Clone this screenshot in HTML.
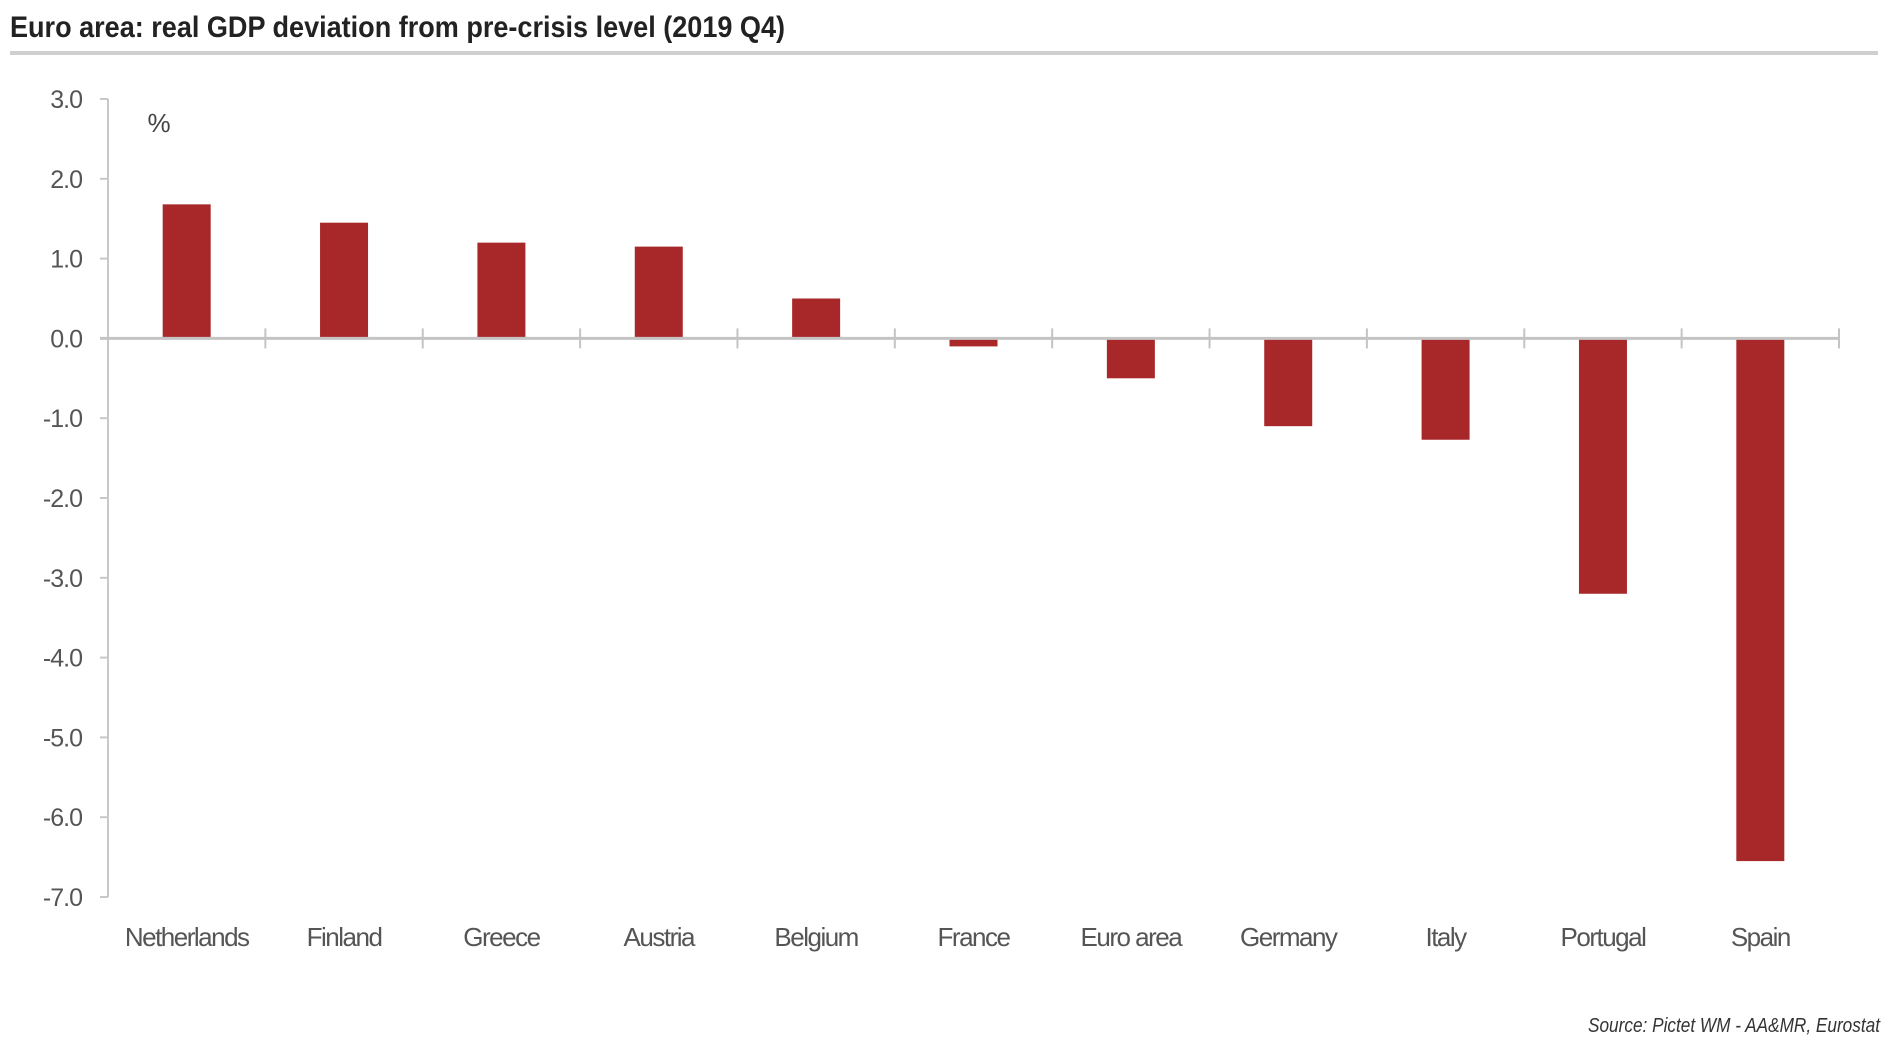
<!DOCTYPE html>
<html><head><meta charset="utf-8"><style>
html,body{margin:0;padding:0;background:#fff;}
svg{display:block;font-family:"Liberation Sans",sans-serif;}
</style></head><body>
<svg id="chart" width="1900" height="1048" viewBox="0 0 1900 1048">
<text x="10" y="37" font-size="30" font-weight="bold" fill="#222" textLength="775" lengthAdjust="spacingAndGlyphs">Euro area: real GDP deviation from pre-crisis level (2019 Q4)</text>
<rect x="10" y="51" width="1868" height="4" fill="#cfcfcf"/>
<text x="159" y="132" font-size="26" fill="#444" text-anchor="middle">%</text>
<g id="yaxis"></g>
<g id="bars"></g>
<g id="xaxis"></g>
<text x="1880" y="1032" font-size="20" font-style="italic" fill="#333" text-anchor="end" textLength="292" lengthAdjust="spacingAndGlyphs">Source: Pictet WM - AA&amp;MR, Eurostat</text>
</svg>
<script>
const categories = ["Netherlands","Finland","Greece","Austria","Belgium","France","Euro area","Germany","Italy","Portugal","Spain"];
const values = [1.68,1.45,1.2,1.15,0.5,-0.1,-0.5,-1.1,-1.27,-3.2,-6.55];
const yTicks = [3,2,1,0,-1,-2,-3,-4,-5,-6,-7];
const yTickLabels = ["3.0","2.0","1.0","0.0","-1.0","-2.0","-3.0","-4.0","-5.0","-6.0","-7.0"];

const NS="http://www.w3.org/2000/svg";
const x0=108,x1=1839,yTop=99,yBot=897,vMax=3,vMin=-7;
const y=v=>yTop+(vMax-v)/(vMax-vMin)*(yBot-yTop);
const bw=(x1-x0)/categories.length;
const xc=i=>x0+bw*(i+0.5);
function mk(tag,attrs,parent){const e=document.createElementNS(NS,tag);for(const k in attrs)e.setAttribute(k,attrs[k]);parent.appendChild(e);return e;}
const ya=document.getElementById('yaxis'),ba=document.getElementById('bars'),xa=document.getElementById('xaxis');
let ax=mk('line',{x1:x0,x2:x0,y1:y(vMax),y2:y(vMin),stroke:'#c8c8c8','stroke-width':2},ya);


yTicks.forEach((t,i)=>{
 const tk=mk('line',{x1:x0-8,x2:x0,y1:y(t),y2:y(t),stroke:'#c8c8c8','stroke-width':2},ya);
 
 
 const tx=mk('text',{x:x0-26,y:y(t)+9,'font-size':25,fill:'#555','text-anchor':'end','letter-spacing':'-1'},ya);
 tx.textContent=yTickLabels[i];
 
 
});
values.forEach((v,i)=>{
 const w=48;
 const r=mk('rect',{x:xc(i)-w/2,y:Math.min(y(v),y(0)),width:w,height:Math.abs(y(v)-y(0)),fill:'#a8282a'},ba);
 
 
});
const zl=mk('line',{x1:x0-8,x2:x1,y1:y(0),y2:y(0),stroke:'#c4c4c4','stroke-width':3},xa);


for(let i=1;i<=categories.length;i++){
 const tk=mk('line',{x1:x0+bw*i,x2:x0+bw*i,y1:y(0)-10,y2:y(0)+10,stroke:'#c4c4c4','stroke-width':2},xa);
 
 
}
categories.forEach((c,i)=>{
 const tx=mk('text',{x:xc(i),y:946,'font-size':26,fill:'#555','text-anchor':'middle','letter-spacing':'-1.5'},xa);
 tx.textContent=c;
 
 
});
</script>
</body></html>
